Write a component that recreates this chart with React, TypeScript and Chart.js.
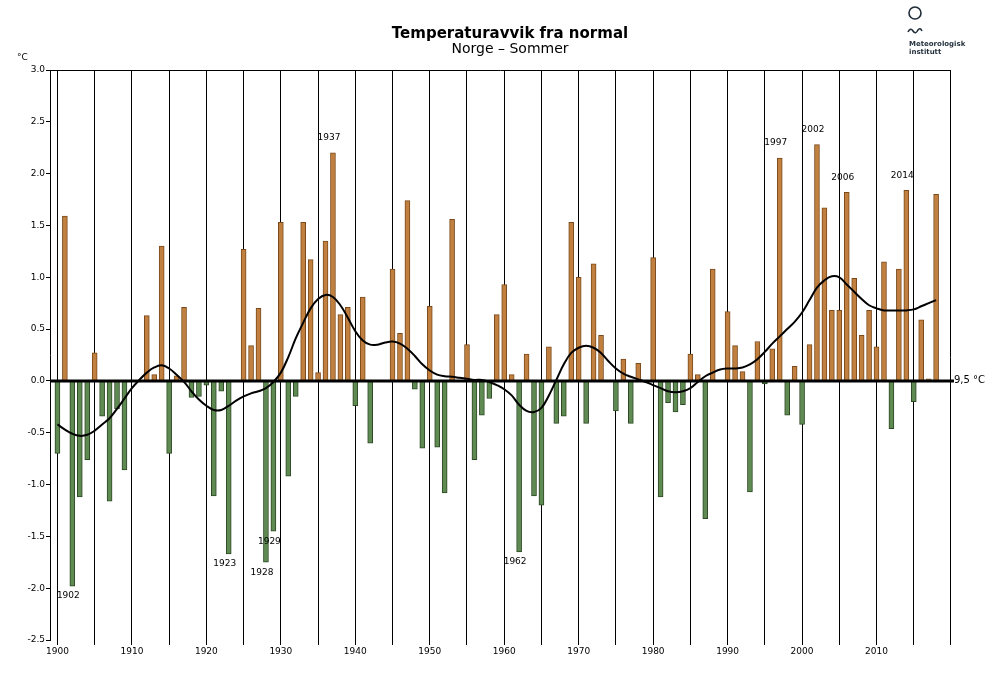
import React, { useEffect, useRef } from "react";
import { Chart, registerables } from "chart.js";

Chart.register(...registerables);

const FONT = "'DejaVu Sans', 'Liberation Sans', sans-serif";

const TITLE = "Temperaturavvik fra normal";
const SUBTITLE = "Norge – Sommer";
const UNIT_LABEL = "°C";
const NORMAL_LABEL = "9,5 °C";
const LOGO_LINES = ["Meteorologisk", "institutt"];

const START_YEAR = 1900;

// Summer temperature anomaly (°C) per year, 1900–2018
const ANOMALY = [
  -0.70, 1.59, -1.98, -1.12, -0.76, 0.27, -0.34, -1.16, -0.27, -0.86, // 1900-1909
  0.00, 0.00, 0.63, 0.06, 1.30, -0.70, 0.05, 0.71, -0.16, -0.15, // 1910-1919
  -0.04, -1.11, -0.10, -1.67, 0.00, 1.27, 0.34, 0.70, -1.75, -1.45, // 1920-1929
  1.53, -0.92, -0.15, 1.53, 1.17, 0.08, 1.35, 2.20, 0.64, 0.71, // 1930-1939
  -0.24, 0.81, -0.60, 0.00, 0.00, 1.08, 0.46, 1.74, -0.08, -0.65, // 1940-1949
  0.72, -0.64, -1.08, 1.56, 0.00, 0.35, -0.76, -0.33, -0.17, 0.64, // 1950-1959
  0.93, 0.06, -1.65, 0.26, -1.11, -1.20, 0.33, -0.41, -0.34, 1.53, // 1960-1969
  1.00, -0.41, 1.13, 0.44, 0.00, -0.29, 0.21, -0.41, 0.17, 0.00, // 1970-1979
  1.19, -1.12, -0.21, -0.30, -0.23, 0.26, 0.06, -1.33, 1.08, 0.00, // 1980-1989
  0.67, 0.34, 0.09, -1.07, 0.38, -0.03, 0.31, 2.15, -0.33, 0.14, // 1990-1999
  -0.42, 0.35, 2.28, 1.67, 0.68, 0.68, 1.82, 0.99, 0.44, 0.68, // 2000-2009
  0.33, 1.15, -0.46, 1.08, 1.84, -0.20, 0.59, 0.02, 1.80, // 2010-2018
];

// Smoothed (low-pass filtered) curve per year
const SMOOTHED = [
  -0.42, -0.47, -0.51, -0.53, -0.52, -0.48, -0.42, -0.36, -0.27, -0.17,
  -0.07, 0.01, 0.08, 0.13, 0.15, 0.12, 0.06, -0.01, -0.10, -0.18,
  -0.24, -0.28, -0.28, -0.24, -0.19, -0.15, -0.12, -0.10, -0.07, -0.01,
  0.08, 0.23, 0.41, 0.56, 0.70, 0.79, 0.83, 0.81, 0.73, 0.61,
  0.48, 0.39, 0.35, 0.35, 0.37, 0.38, 0.36, 0.31, 0.24, 0.16,
  0.10, 0.06, 0.045, 0.04, 0.03, 0.02, 0.01, 0.01, -0.01, -0.04,
  -0.08, -0.14, -0.23, -0.29, -0.30, -0.26, -0.14, 0.01, 0.16, 0.27,
  0.32, 0.34, 0.32, 0.27, 0.19, 0.12, 0.07, 0.04, 0.015, -0.01,
  -0.04, -0.07, -0.10, -0.11, -0.10, -0.07, -0.01, 0.045, 0.08, 0.11,
  0.12, 0.12, 0.13, 0.16, 0.21, 0.28, 0.36, 0.43, 0.50, 0.57,
  0.66, 0.78, 0.90, 0.97, 1.01, 1.00, 0.93, 0.86, 0.79, 0.73,
  0.70, 0.68, 0.68, 0.68, 0.68, 0.69, 0.72, 0.75, 0.78,
];

const YEARS = ANOMALY.map((_, i) => START_YEAR + i);

const GRID_YEARS = [
  1900, 1905, 1910, 1915, 1920, 1925, 1930, 1935, 1940, 1945, 1950, 1955,
  1960, 1965, 1970, 1975, 1980, 1985, 1990, 1995, 2000, 2005, 2010, 2015,
];

const MARKED_YEARS = [1902, 1923, 1928, 1929, 1937, 1962, 1997, 2002, 2006, 2014];

const WARM_FILL = "#c1803f";
const WARM_EDGE = "#7a4a1c";
const COLD_FILL = "#5f8a52";
const COLD_EDGE = "#2c4824";

const decorPlugin = {
  id: "decor",
  afterDatasetDraw(chart: any, args: any) {
    if (args.index !== 0) return;
    const { ctx, chartArea, scales } = chart;
    const y0 = scales.y.getPixelForValue(0);
    ctx.save();
    ctx.strokeStyle = "#000";
    ctx.lineWidth = 3;
    ctx.beginPath();
    ctx.moveTo(chartArea.left, y0);
    ctx.lineTo(chartArea.right + 3, y0);
    ctx.stroke();
    ctx.restore();
  },
  afterDraw(chart: any) {
    const { ctx, chartArea, scales } = chart;
    const { left, right, top, bottom } = chartArea;
    const xs = scales.x;
    const ys = scales.y;
    ctx.save();
    // frame: top and right
    ctx.strokeStyle = "#000";
    ctx.lineWidth = 1;
    ctx.beginPath();
    ctx.moveTo(left, top + 0.5);
    ctx.lineTo(right, top + 0.5);
    ctx.moveTo(right - 0.5, top);
    ctx.lineTo(right - 0.5, bottom + 5);
    ctx.stroke();

    // year annotations
    ctx.fillStyle = "#000";
    ctx.font = `9px ${FONT}`;
    ctx.textAlign = "center";
    ctx.textBaseline = "middle";
    MARKED_YEARS.forEach((yr) => {
      const v = ANOMALY[yr - START_YEAR];
      const px = xs.getPixelForValue(yr) - 4;
      const py = ys.getPixelForValue(v);
      ctx.fillText(String(yr), px, v >= 0 ? py - 15 : py + 10);
    });

    // normal label and unit
    const y0 = ys.getPixelForValue(0);
    ctx.font = `10px ${FONT}`;
    ctx.textAlign = "left";
    ctx.fillText(NORMAL_LABEL, right + 3, y0 - 1);
    ctx.font = `9px ${FONT}`;
    ctx.fillText(UNIT_LABEL, 17, 58);

    // title
    ctx.textAlign = "center";
    ctx.font = `bold 15px ${FONT}`;
    ctx.fillText(TITLE, 510, 34);
    ctx.font = `14px ${FONT}`;
    ctx.fillText(SUBTITLE, 510, 49);

    // logo
    const logoColor = "#1f2c38";
    ctx.strokeStyle = logoColor;
    ctx.lineWidth = 1.6;
    ctx.beginPath();
    ctx.arc(915, 13, 6, 0, Math.PI * 2);
    ctx.stroke();
    ctx.beginPath();
    ctx.moveTo(908, 32);
    ctx.quadraticCurveTo(910.5, 27, 913, 31);
    ctx.quadraticCurveTo(915.5, 35, 918, 30);
    ctx.quadraticCurveTo(920, 27, 922, 31);
    ctx.stroke();
    ctx.fillStyle = logoColor;
    ctx.textAlign = "left";
    ctx.font = `bold 7px ${FONT}`;
    ctx.fillText(LOGO_LINES[0], 909, 44);
    ctx.fillText(LOGO_LINES[1], 909, 52);
    ctx.restore();
  },
};

export default function App() {
  const canvasRef = useRef<HTMLCanvasElement | null>(null);

  useEffect(() => {
    if (!canvasRef.current) return;
    const chart = new Chart(canvasRef.current, {
      type: "bar",
      data: {
        datasets: [
          {
            type: "bar",
            data: YEARS.map((yr, i) => ({ x: yr, y: ANOMALY[i] })),
            backgroundColor: (c: any) => (c.raw && c.raw.y >= 0 ? WARM_FILL : COLD_FILL),
            borderColor: (c: any) => (c.raw && c.raw.y >= 0 ? WARM_EDGE : COLD_EDGE),
            borderWidth: 1,
            barThickness: 5,
            order: 2,
          } as any,
          {
            type: "line",
            data: YEARS.map((yr, i) => ({ x: yr, y: SMOOTHED[i] })),
            borderColor: "#000",
            borderWidth: 2,
            pointRadius: 0,
            tension: 0.4,
            fill: false,
            order: 1,
          } as any,
        ],
      },
      options: {
        animation: false,
        responsive: false,
        devicePixelRatio: 1,
        layout: { padding: { left: 0, right: 49, top: 70, bottom: 0 } },
        plugins: { legend: { display: false }, tooltip: { enabled: false } },
        scales: {
          x: {
            type: "linear",
            min: 1899,
            max: 2020,
            offset: false,
            afterBuildTicks: (scale: any) => {
              scale.ticks = GRID_YEARS.map((v) => ({ value: v }));
            },
            afterFit: (scale: any) => {
              scale.height = 60;
            },
            grid: {
              offset: false,
              color: "#000",
              lineWidth: 1,
              drawTicks: true,
              tickLength: 5,
            },
            border: { display: false },
            ticks: {
              autoSkip: false,
              maxRotation: 0,
              padding: 1,
              color: "#000",
              font: { family: FONT, size: 9 },
              callback: (v: any) => (Number(v) % 10 === 0 ? String(v) : ""),
            },
          },
          y: {
            type: "linear",
            min: -2.5,
            max: 3.0,
            afterFit: (scale: any) => {
              scale.width = 50;
            },
            grid: {
              drawOnChartArea: false,
              drawTicks: true,
              tickLength: 4,
              color: "#000",
            },
            border: { display: true, color: "#000", width: 1 },
            ticks: {
              stepSize: 0.5,
              padding: 1,
              color: "#000",
              font: { family: FONT, size: 9 },
              callback: (v: any) => Number(v).toFixed(1),
            },
          },
        },
      },
      plugins: [decorPlugin],
    } as any);
    return () => chart.destroy();
  }, []);

  return (
    <div style={{ position: "fixed", left: 0, top: 0, width: 1000, height: 700, background: "#fff" }}>
      <canvas ref={canvasRef} width={1000} height={700} style={{ width: 1000, height: 700, display: "block" }} />
    </div>
  );
}
